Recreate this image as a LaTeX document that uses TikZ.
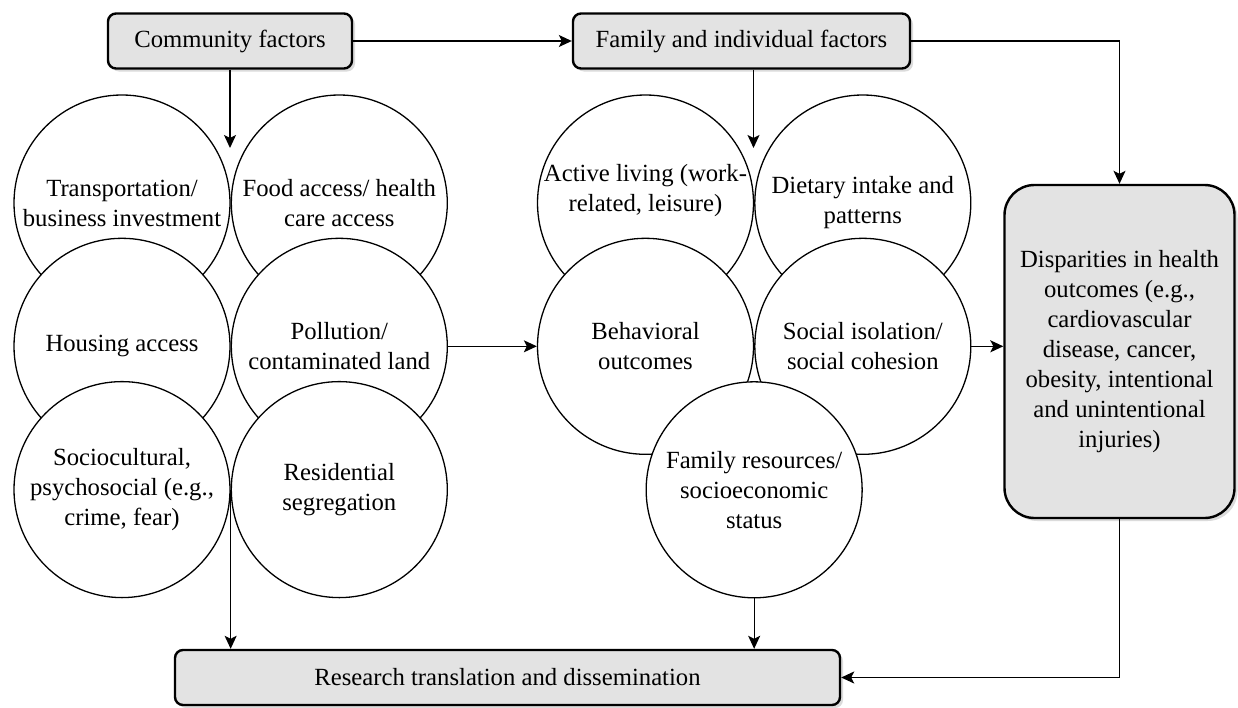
\documentclass[tikz,border=0pt]{standalone}
\usepackage{fontspec}
\newfontfamily\diagfont{Liberation Serif}
\usetikzlibrary{arrows.meta,positioning,shadows,calc}

\begin{document}
\begin{tikzpicture}[x=1pt, y=-1pt,
  every node/.style={font=\diagfont\fontsize{24.7}{30}\selectfont},
  factor/.style={draw, line width=2.4pt, rounded corners=8pt, fill=black!11,
                 minimum height=55pt, align=center,
                 drop shadow={shadow xshift=3pt, shadow yshift=-3pt, fill=black!28}},
  topic/.style={draw, circle, line width=1.3pt, fill=white, minimum size=216pt,
                inner sep=0pt, align=center},
  arr/.style={-{Stealth[length=13pt, width=12pt, inset=3pt]}, line width=1.3pt},
  node distance=0pt and 0pt]
\fill[white] (0,0) rectangle (1238,707);
\node[factor, minimum width=244pt] (comm) at (230,41) {Community factors};
\node[factor, minimum width=337pt] (fam) at (741.5,41) {Family and individual factors};
\node[factor, minimum width=665pt] (res) at (507.5,677.5) {Research translation and dissemination};
\node[factor, minimum width=230pt, minimum height=333pt, rounded corners=30pt] (disp) at (1119.5,351.5)
  {Disparities in health\\ outcomes (e.g.,\\ cardiovascular\\ disease, cancer,\\ obesity, intentional\\ and unintentional\\ injuries)};
% community circles
\node[topic] (trans) at (122,203) {Transportation/\\ business investment};
\node[topic, right=of trans] (food) {Food access/ health\\ care access};
\node[topic, below=-74pt of trans] (house) {Housing access};
\node[topic, right=of house] (pollu) {Pollution/\\ contaminated land};
\node[topic, below=-74pt of house] (socio) {Sociocultural,\\ psychosocial (e.g.,\\ crime, fear)};
\node[topic, right=of socio] (segr) {Residential\\ segregation};
% family circles
\node[topic] (actv) at (645.5,203) {};
\node[align=center] (actvtxt) at ([yshift=12pt]actv.center) {Active living (work-\\ related, leisure)};
\node[topic, right=of actv] (diet) {Dietary intake and\\ patterns};
\node[topic, below=-74pt of actv] (behav) {Behavioral\\ outcomes};
\node[topic, right=of behav] (isol) {Social isolation/\\ social cohesion};
\node[topic] (fres) at ($(behav.east)+(0,143.5)$) {Family resources/\\ socioeconomic\\ status};
\coordinate (commin) at (230,148);
\coordinate (famin) at (753.5,148);
\draw[arr] (comm) -- (fam);
\draw[arr] (comm) -- (commin);
\draw[arr] (famin |- fam.south) -- (famin);
\draw[arr] (fam) -| (disp);
\draw[arr] (pollu) -- (behav);
\draw[arr] (isol) -- (isol -| disp.west);
\draw[arr] (socio.east) -- (socio.east |- res.north);
\draw[arr] (fres) -- (fres |- res.north);
\draw[arr] (disp) |- (res);
\end{tikzpicture}
\end{document}
